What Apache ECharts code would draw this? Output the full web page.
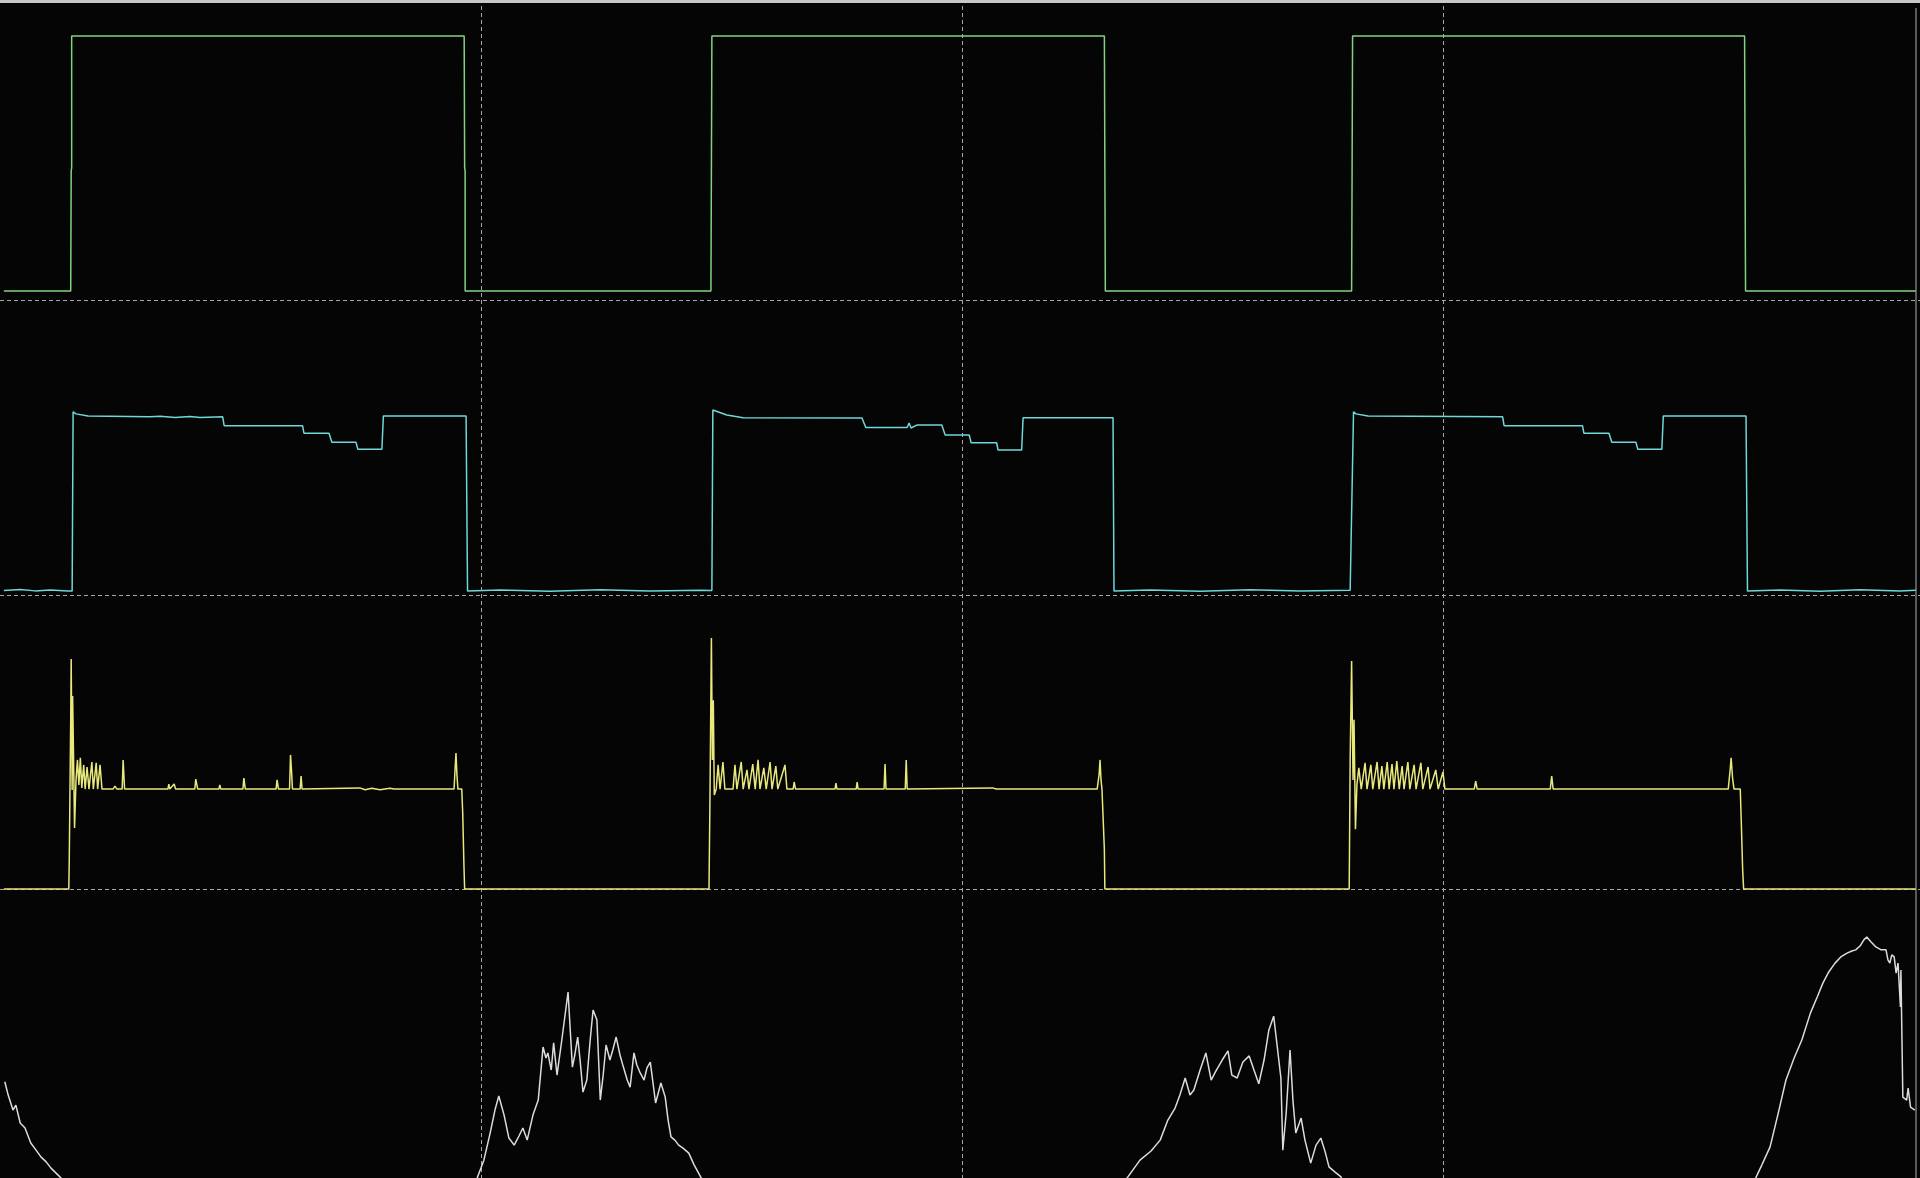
<!DOCTYPE html>
<html>
<head>
<meta charset="utf-8">
<title>scope</title>
<script src="https://cdn.jsdelivr.net/npm/echarts@6/dist/echarts.min.js"></script>
<style>
  html, body { margin: 0; padding: 0; background: #050505; }
  #main { width: 1920px; height: 1178px; }
</style>
</head>
<body>
<div id="main"></div>
<script>
// time in ms (10 ms / div), values in div above each channel's baseline
var ch1 = [
  [0.08,0.032],[1.47,0.032],[1.48,0.44],[1.49,0.45],[1.49,0.898],[9.65,0.898],[9.66,0.45],[9.67,0.44],[9.67,0.032],
  [14.78,0.032],[14.79,0.44],[14.80,0.898],[22.96,0.898],[22.97,0.45],[22.98,0.032],
  [28.10,0.032],[28.11,0.44],[28.12,0.898],[36.27,0.898],[36.28,0.45],[36.29,0.032],[39.83,0.032]
];

var ch2 = [
  [0.08,0.015],[0.42,0.019],[0.73,0.014],[1.04,0.017],[1.41,0.014],[1.50,0.014],
  [1.52,0.622],[1.58,0.615],[1.83,0.608],[3.12,0.605],[3.33,0.607],[3.64,0.603],[3.95,0.606],[4.16,0.603],[4.63,0.605],
  [4.66,0.575],[6.29,0.575],[6.32,0.549],[6.84,0.549],[6.90,0.519],[7.40,0.519],[7.44,0.495],[7.94,0.495],
  [7.97,0.608],[9.69,0.608],[9.72,0.014],
  [10.40,0.017],[11.43,0.013],[12.47,0.018],[13.51,0.014],[14.55,0.016],[14.80,0.015],
  [14.82,0.628],[15.11,0.611],[15.45,0.602],[17.92,0.601],[18.00,0.569],[18.86,0.569],[18.90,0.584],[18.94,0.567],
  [19.06,0.577],[19.58,0.577],[19.65,0.543],[20.15,0.543],[20.19,0.517],[20.72,0.517],[20.75,0.492],[21.24,0.492],
  [21.27,0.602],[23.14,0.602],[23.16,0.014],
  [23.91,0.017],[24.95,0.013],[25.99,0.018],[27.03,0.014],[28.07,0.016],[28.11,0.015],
  [28.14,0.622],[28.19,0.615],[28.44,0.608],[31.24,0.605],[31.27,0.575],[32.90,0.575],[32.93,0.549],[33.45,0.549],
  [33.51,0.519],[34.01,0.519],[34.05,0.495],[34.55,0.495],[34.58,0.608],[36.30,0.608],[36.33,0.014],
  [37.01,0.017],[37.84,0.013],[38.67,0.018],[39.50,0.014],[39.83,0.016]
];

var ch3 = [
  [0.08,0.002],[1.43,0.002],[1.44,0.100],[1.47,0.576],[1.48,0.783],[1.50,0.338],[1.51,0.657],[1.53,0.440],[1.55,0.209],
  [1.58,0.372],[1.61,0.440],[1.64,0.355],[1.67,0.447],[1.70,0.345],[1.74,0.423],[1.77,0.341],[1.81,0.416],[1.85,0.341],
  [1.91,0.433],[1.94,0.341],[2.00,0.430],[2.03,0.341],[2.08,0.423],[2.12,0.341],[2.35,0.341],[2.39,0.351],[2.43,0.341],
  [2.54,0.341],[2.56,0.440],[2.59,0.341],[3.49,0.341],[3.51,0.358],[3.53,0.341],[3.62,0.358],[3.65,0.341],
  [4.05,0.341],[4.07,0.375],[4.11,0.341],[4.55,0.341],[4.57,0.355],[4.59,0.341],[5.05,0.341],[5.07,0.378],[5.10,0.341],
  [5.74,0.341],[5.76,0.372],[5.79,0.341],[6.02,0.341],[6.04,0.457],[6.06,0.406],[6.08,0.341],[6.24,0.341],[6.26,0.385],[6.28,0.341],
  [7.48,0.345],[7.59,0.339],[7.73,0.344],[7.90,0.339],[8.11,0.344],[8.19,0.341],
  [9.44,0.341],[9.46,0.406],[9.48,0.463],[9.50,0.389],[9.52,0.341],[9.60,0.341],[9.62,0.260],[9.645,0.083],[9.66,0.002],
  [14.74,0.002],[14.76,0.304],[14.79,0.854],[14.81,0.440],[14.83,0.643],[14.85,0.321],[14.89,0.341],[14.93,0.423],[14.97,0.341],
  [15.03,0.433],[15.07,0.341],[15.24,0.341],[15.28,0.423],[15.32,0.341],[15.41,0.433],[15.45,0.341],[15.53,0.406],[15.57,0.341],
  [15.65,0.426],[15.70,0.341],[15.76,0.440],[15.80,0.341],[15.88,0.413],[15.93,0.341],[16.01,0.433],[16.05,0.341],
  [16.13,0.419],[16.17,0.341],[16.32,0.423],[16.36,0.341],[16.49,0.341],[16.51,0.365],[16.54,0.341],
  [17.36,0.341],[17.38,0.361],[17.40,0.341],[17.80,0.341],[17.82,0.365],[17.84,0.341],
  [18.38,0.341],[18.40,0.426],[18.42,0.341],[18.82,0.341],[18.84,0.440],[18.86,0.341],
  [20.64,0.345],[20.71,0.341],[20.75,0.345],[20.79,0.341],
  [22.81,0.341],[22.85,0.389],[22.87,0.440],[22.89,0.372],[22.91,0.341],[22.94,0.341],[22.96,0.134],[22.97,0.002],
  [28.05,0.002],[28.07,0.440],[28.10,0.776],[28.13,0.372],[28.15,0.576],[28.18,0.205],[28.21,0.355],[28.25,0.413],[28.30,0.341],
  [28.38,0.430],[28.42,0.341],[28.50,0.423],[28.54,0.341],[28.63,0.433],[28.67,0.341],[28.73,0.419],[28.77,0.341],
  [28.84,0.433],[28.88,0.341],[28.94,0.426],[28.98,0.341],[29.04,0.436],[29.09,0.341],[29.15,0.419],[29.19,0.341],
  [29.27,0.433],[29.31,0.341],[29.40,0.423],[29.44,0.341],[29.54,0.430],[29.58,0.341],[29.69,0.416],[29.73,0.341],
  [29.85,0.406],[29.90,0.341],[30.00,0.399],[30.04,0.341],[30.65,0.341],[30.68,0.368],[30.71,0.341],
  [32.23,0.341],[32.26,0.385],[32.29,0.341],
  [35.93,0.341],[35.97,0.406],[35.99,0.447],[36.02,0.378],[36.05,0.341],[36.18,0.341],[36.20,0.236],[36.23,0.066],[36.25,0.002],
  [39.83,0.002]
];

var ch4 = [
  [0.10,0.347],[0.17,0.302],[0.27,0.251],[0.33,0.268],[0.42,0.207],[0.52,0.190],[0.64,0.139],[0.75,0.115],[0.85,0.092],
  [0.96,0.075],[1.06,0.054],[1.27,0.020],[1.37,-0.014],
  [9.81,-0.020],[9.92,0.020],[10.06,0.081],[10.19,0.173],[10.29,0.251],[10.37,0.299],[10.48,0.234],[10.58,0.156],[10.69,0.132],
  [10.79,0.163],[10.87,0.190],[10.96,0.149],[11.08,0.234],[11.19,0.285],[11.29,0.465],[11.35,0.428],[11.39,0.445],[11.46,0.387],
  [11.51,0.479],[11.58,0.370],[11.68,0.489],[11.81,0.652],[11.90,0.397],[11.95,0.438],[12.01,0.499],[12.06,0.421],[12.12,0.312],
  [12.20,0.353],[12.27,0.489],[12.33,0.591],[12.41,0.557],[12.48,0.285],[12.54,0.370],[12.60,0.472],[12.68,0.421],[12.74,0.455],
  [12.81,0.499],[12.89,0.438],[12.96,0.397],[13.04,0.353],[13.10,0.329],[13.18,0.445],[13.24,0.404],[13.31,0.377],[13.39,0.353],
  [13.45,0.394],[13.52,0.414],[13.63,0.275],[13.74,0.343],[13.83,0.295],[13.89,0.217],[13.95,0.160],[14.03,0.149],[14.11,0.132],
  [14.20,0.122],[14.32,0.105],[14.43,0.065],[14.51,0.041],[14.58,0.020],[14.68,-0.020],
  [23.28,-0.020],[23.43,0.020],[23.70,0.081],[23.93,0.112],[24.12,0.149],[24.28,0.217],[24.43,0.258],[24.53,0.302],[24.64,0.360],
  [24.74,0.302],[24.82,0.319],[24.95,0.387],[25.07,0.445],[25.18,0.353],[25.28,0.384],[25.41,0.421],[25.53,0.452],[25.61,0.370],
  [25.72,0.360],[25.84,0.414],[25.97,0.435],[26.07,0.387],[26.17,0.340],[26.28,0.421],[26.38,0.523],[26.48,0.570],[26.55,0.472],
  [26.63,0.360],[26.67,0.115],[26.74,0.241],[26.82,0.455],[26.88,0.285],[26.94,0.173],[27.05,0.224],[27.13,0.149],[27.25,0.071],
  [27.36,0.132],[27.46,0.156],[27.55,0.109],[27.63,0.058],[27.75,0.041],[27.88,0.024],[27.98,-0.020],
  [36.38,-0.020],[36.50,0.020],[36.63,0.065],[36.80,0.126],[36.96,0.234],[37.13,0.353],[37.30,0.428],[37.46,0.489],[37.64,0.581],
  [37.78,0.635],[37.90,0.683],[38.02,0.720],[38.15,0.750],[38.27,0.771],[38.40,0.784],[38.50,0.791],[38.58,0.795],[38.67,0.808],
  [38.75,0.829],[38.81,0.839],[38.90,0.822],[39.00,0.805],[39.11,0.795],[39.21,0.795],[39.25,0.761],[39.29,0.750],[39.33,0.778],
  [39.38,0.771],[39.42,0.716],[39.46,0.750],[39.51,0.601],[39.52,0.727],[39.56,0.295],[39.64,0.285],[39.67,0.326],[39.72,0.261],
  [39.81,0.251]
];

var channels = [ch1, ch2, ch3, ch4];
var offsets = [3, 2, 1, 0];
var colors = ['#80d480', '#6fd8d8', '#e8e87c', '#dcdcdc'];

var myChart = echarts.init(document.getElementById('main'));

var series = channels.map(function (ch, i) {
  return {
    type: 'line',
    symbol: 'none',
    data: ch.map(function (p) { return [p[0], p[1] + offsets[i]]; }),
    lineStyle: { color: colors[i], width: 1.5 },
    z: 3
  };
});

var option = {
  backgroundColor: '#050505',
  animation: false,
  grid: { left: 0, top: 6, width: 1924, height: 1178, containLabel: false, outerBoundsMode: 'none' },
  xAxis: {
    type: 'value', min: 0, max: 40, interval: 10,
    axisLine: { show: false }, axisTick: { show: false }, axisLabel: { show: false },
    splitLine: { show: true, showMinLine: false, showMaxLine: false,
      lineStyle: { color: '#a8a4a8', type: [4, 3], width: 1 } }
  },
  yAxis: {
    type: 'value', min: 0, max: 4, interval: 1,
    axisLine: { show: false }, axisTick: { show: false }, axisLabel: { show: false },
    splitLine: { show: true, showMinLine: false, showMaxLine: false,
      lineStyle: { color: '#a8a4a8', type: [4, 3], width: 1 } }
  },
  graphic: [
    { type: 'rect', shape: { x: 0, y: 0, width: 1920, height: 3 }, style: { fill: '#c8c8c8' } },
    { type: 'line', shape: { x1: 1916, y1: 8, x2: 1916, y2: 1178 }, style: { stroke: '#5a5a5a', lineWidth: 2 } }
  ],
  series: series
};

myChart.setOption(option);
</script>
</body>
</html>
